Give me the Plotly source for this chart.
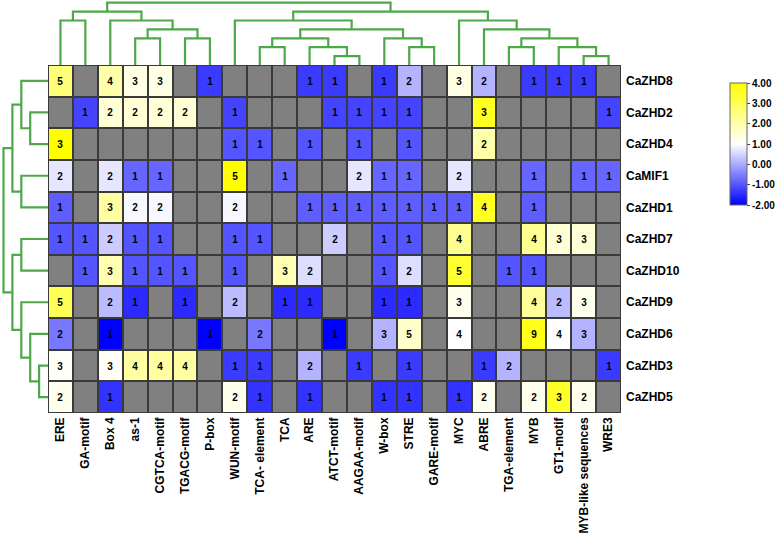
import plotly.graph_objects as go

# ---------------- data ----------------
columns = ['ERE', 'GA-motif', 'Box 4', 'as-1', 'CGTCA-motif', 'TGACG-motif', 'P-box',
           'WUN-motif', 'TCA- element', 'TCA', 'ARE', 'ATCT-motif', 'AAGAA-motif', 'W-box',
           'STRE', 'GARE-motif', 'MYC', 'ABRE', 'TGA-element', 'MYB', 'GT1-motif',
           'MYB-like sequences', 'WRE3']
rows = ['CaZHD8', 'CaZHD2', 'CaZHD4', 'CaMIF1', 'CaZHD1', 'CaZHD7', 'CaZHD10',
        'CaZHD9', 'CaZHD6', 'CaZHD3', 'CaZHD5']

# element counts (0 = absent, drawn grey)
counts_CaZHD8 = [5, 0, 4, 3, 3, 0, 1, 0, 0, 0, 1, 1, 0, 1, 2, 0, 3, 2, 0, 1, 1, 1, 0]
counts_CaZHD2 = [0, 1, 2, 2, 2, 2, 0, 1, 0, 0, 0, 1, 1, 1, 1, 0, 0, 3, 0, 0, 0, 0, 1]
counts_CaZHD4 = [3, 0, 0, 0, 0, 0, 0, 1, 1, 0, 1, 0, 1, 0, 1, 0, 0, 2, 0, 0, 0, 0, 0]
counts_CaMIF1 = [2, 0, 2, 1, 1, 0, 0, 5, 0, 1, 0, 0, 2, 1, 1, 0, 2, 0, 0, 1, 0, 1, 1]
counts_CaZHD1 = [1, 0, 3, 2, 2, 0, 0, 2, 0, 0, 1, 1, 1, 1, 1, 1, 1, 4, 0, 1, 0, 0, 0]
counts_CaZHD7 = [1, 1, 2, 1, 1, 0, 0, 1, 1, 0, 0, 2, 0, 1, 1, 0, 4, 0, 0, 4, 3, 3, 0]
counts_CaZHD10 = [0, 1, 3, 1, 1, 1, 0, 1, 0, 3, 2, 0, 0, 1, 2, 0, 5, 0, 1, 1, 0, 0, 0]
counts_CaZHD9 = [5, 0, 2, 1, 0, 1, 0, 2, 0, 1, 1, 0, 0, 1, 1, 0, 3, 0, 0, 4, 2, 3, 0]
counts_CaZHD6 = [2, 0, 1, 0, 0, 0, 1, 0, 2, 0, 0, 1, 0, 3, 5, 0, 4, 0, 0, 9, 4, 3, 0]
counts_CaZHD3 = [3, 0, 3, 4, 4, 4, 0, 1, 1, 0, 2, 0, 1, 0, 1, 0, 0, 1, 2, 0, 0, 0, 1]
counts_CaZHD5 = [2, 0, 1, 0, 0, 0, 0, 2, 1, 0, 1, 0, 0, 1, 1, 0, 1, 2, 0, 2, 3, 2, 0]

# colour level of each cell on the -2..4 scale, None = grey
N = None
level_CaZHD8 = [2.6, N, 2.0, 1.3, 1.3, N, -1.3, N, N, N, -1.3, -1.3, N, -1.3, 0.1, N, 1.3, 0.1, N, -1.3, -1.3, -1.3, N]
level_CaZHD2 = [N, -1.2, 1.5, 1.5, 1.5, 1.5, N, -1.2, N, N, N, -1.2, -1.2, -1.2, -1.2, N, N, 3.6, N, N, N, N, -1.2]
level_CaZHD4 = [4.0, N, N, N, N, N, N, -1.0, -1.0, N, -1.0, N, -1.0, N, -1.0, N, N, 2.0, N, N, N, N, N]
level_CaMIF1 = [0.7, N, 0.7, -0.8, -0.8, N, N, 4.0, N, -0.8, N, N, 0.7, -0.8, -0.8, N, 0.7, N, N, -0.8, N, -0.8, -0.8]
level_CaZHD1 = [-0.9, N, 2.1, 0.9, 0.9, N, N, 0.9, N, N, -0.9, -0.9, -0.9, -0.9, -0.9, -0.9, -0.9, 3.6, N, -0.9, N, N, N]
level_CaZHD7 = [-1.0, -1.0, 0.4, -1.0, -1.0, N, N, -1.0, -1.0, N, N, 0.4, N, -1.0, -1.0, N, 2.3, N, N, 2.3, 1.5, 1.5, N]
level_CaZHD10 = [N, -1.0, 1.9, -1.0, -1.0, -1.0, N, -1.0, N, 1.9, 0.6, N, N, -1.0, 0.6, N, 3.4, N, -1.0, -1.0, N, N, N]
level_CaZHD9 = [3.0, N, 0.2, -1.5, N, -1.5, N, 0.2, N, -1.5, -1.5, N, N, -1.5, -1.5, N, 1.2, N, N, 2.2, 0.2, 1.2, N]
level_CaZHD6 = [-0.6, N, -2.0, N, N, N, -2.0, N, -0.6, N, N, -2.0, N, 0.1, 1.6, N, 1.0, N, N, 3.7, 1.0, 0.1, N]
level_CaZHD3 = [1.1, N, 1.1, 2.1, 2.1, 2.1, N, -1.3, -1.3, N, 0.1, N, -1.3, N, -1.3, N, N, -1.3, 0.1, N, N, N, -1.3]
level_CaZHD5 = [1.2, N, -1.4, N, N, N, N, 1.2, -1.4, N, -1.4, N, N, -1.4, -1.4, N, -1.4, 1.2, N, 1.2, 3.5, 1.2, N]

colorbar_ticks = [-2, -1, 0, 1, 2, 3, 4]
colorbar_labels = ['-2.00', '-1.00', '0.00', '1.00', '2.00', '3.00', '4.00']

# dendrogram trees: (merge level, left, right)
col_tree = (7,
            (6, (5, 'ERE', 'GA-motif'),
                (5, 'Box 4', (4, (3, 'as-1', 'CGTCA-motif'), (3, 'TGACG-motif', 'P-box')))),
            (6, (5, 'WUN-motif',
                 (4, (3, (2, 'TCA- element', 'TCA'), (2, 'ARE', (1, 'ATCT-motif', 'AAGAA-motif'))),
                     (3, 'W-box', (2, 'STRE', 'GARE-motif')))),
                (5, 'MYC', (4, 'ABRE', (3, (2, 'TGA-element', 'MYB'),
                                          (2, 'GT1-motif', (1, 'MYB-like sequences', 'WRE3')))))))
row_tree = (5,
            (4, (3, 'CaZHD8', (2, 'CaZHD2', 'CaZHD4')), (3, 'CaMIF1', 'CaZHD1')),
            (4, (3, 'CaZHD7', 'CaZHD10'), (3, 'CaZHD9', (2, 'CaZHD6', (1, 'CaZHD3', 'CaZHD5')))))

counts = [counts_CaZHD8, counts_CaZHD2, counts_CaZHD4, counts_CaMIF1, counts_CaZHD1, counts_CaZHD7,
          counts_CaZHD10, counts_CaZHD9, counts_CaZHD6, counts_CaZHD3, counts_CaZHD5]
levels = [level_CaZHD8, level_CaZHD2, level_CaZHD4, level_CaMIF1, level_CaZHD1, level_CaZHD7,
          level_CaZHD10, level_CaZHD9, level_CaZHD6, level_CaZHD3, level_CaZHD5]

# ---------------- layout geometry ----------------
W, H = 777, 541
hm_l, hm_r, hm_t, hm_b = 48, 621, 65, 413
unit = 8.9  # pixels per dendrogram level
FONT = 'Liberation Sans, Arial, sans-serif'
GREEN = '#4ea84a'

ncol, nrow = len(columns), len(rows)
xi = list(range(ncol))
yi = list(range(nrow))


def dendro(tree, order):
    pos, hgt = [], []

    def walk(node):
        if isinstance(node, str):
            return order.index(node), 0
        h, a, b = node
        pa, ha = walk(a)
        pb, hb = walk(b)
        pos.extend([pa, pa, pb, pb, None])
        hgt.extend([ha, h, h, hb, None])
        return (pa + pb) / 2, h

    walk(tree)
    return pos, hgt


fig = go.Figure()

# grey base (absent elements)
fig.add_trace(go.Heatmap(z=[[1] * ncol for _ in rows], x=xi, y=yi,
                         colorscale=[[0, '#808080'], [1, '#808080']], showscale=False,
                         xgap=2, ygap=2, hoverinfo='skip'))

text = [[str(c) if c else '' for c in r] for r in counts]
fig.add_trace(go.Heatmap(
    z=levels, x=xi, y=yi, text=text, texttemplate='%{text}',
    textfont=dict(family=FONT, size=10, color='black', weight='bold'),
    colorscale=[[0, '#0000ff'], [0.5, '#ffffff'], [1, '#ffff00']],
    zmin=-2, zmax=4, xgap=2, ygap=2,
    colorbar=dict(x=730 / W, xanchor='left', xpad=0, y=(H - 144) / H, yanchor='middle',
                  len=122, lenmode='pixels', ypad=0, thickness=17,
                  outlinewidth=1, outlinecolor='#666',
                  tickvals=colorbar_ticks, ticktext=colorbar_labels,
                  ticks='outside', ticklen=3, tickcolor='#444',
                  tickfont=dict(family=FONT, size=10, color='black', weight='bold'))))

# top dendrogram
cx, ch = dendro(col_tree, columns)
fig.add_trace(go.Scatter(x=cx, y=ch, mode='lines', line=dict(color=GREEN, width=2.2),
                         xaxis='x2', yaxis='y2', hoverinfo='skip', showlegend=False))
# left dendrogram
ry, rh = dendro(row_tree, rows)
fig.add_trace(go.Scatter(x=rh, y=ry, mode='lines', line=dict(color=GREEN, width=2.2),
                         xaxis='x3', yaxis='y3', hoverinfo='skip', showlegend=False))

# dark cell outlines
fig.add_shape(type='rect', xref='x', yref='y', x0=-0.5, x1=ncol - 0.5, y0=-0.5, y1=nrow - 0.5,
              fillcolor='#3a3a3a', line_width=0, layer='below')

ydom = [(H - hm_b) / H, (H - hm_t) / H]
xdom = [hm_l / W, hm_r / W]
fig.update_layout(
    width=W, height=H, autosize=False,
    margin=dict(l=0, r=0, t=0, b=0),
    paper_bgcolor='white', plot_bgcolor='white',
    showlegend=False,
    xaxis=dict(domain=xdom, range=[-0.5, ncol - 0.5], tickvals=xi, ticktext=columns,
               tickangle=-90, showgrid=False, zeroline=False, ticks='', anchor='y',
               tickfont=dict(family=FONT, size=12, color='black', weight='bold'),
               ticklabelstandoff=1, automargin=False, fixedrange=True),
    yaxis=dict(domain=ydom, range=[nrow - 0.5, -0.5], tickvals=yi, ticktext=rows,
               side='right', showgrid=False, zeroline=False, ticks='', anchor='x',
               tickfont=dict(family=FONT, size=12, color='black', weight='bold'),
               ticklabelstandoff=4, automargin=False, fixedrange=True),
    xaxis2=dict(domain=xdom, range=[-0.5, ncol - 0.5], visible=False, anchor='y2', fixedrange=True),
    yaxis2=dict(domain=[(H - hm_t) / H, 1], range=[0, hm_t / unit], visible=False, anchor='x2',
                fixedrange=True),
    xaxis3=dict(domain=[0, hm_l / W], range=[hm_l / unit, 0], visible=False, anchor='y3',
                fixedrange=True),
    yaxis3=dict(domain=ydom, range=[nrow - 0.5, -0.5], visible=False, anchor='x3', fixedrange=True),
)

# remove the browser's default page margin so the figure sits at the window origin
fig.write_html('out.html', config={'displayModeBar': False},
               post_script="document.body.style.margin='0';document.body.style.overflow='hidden';")
